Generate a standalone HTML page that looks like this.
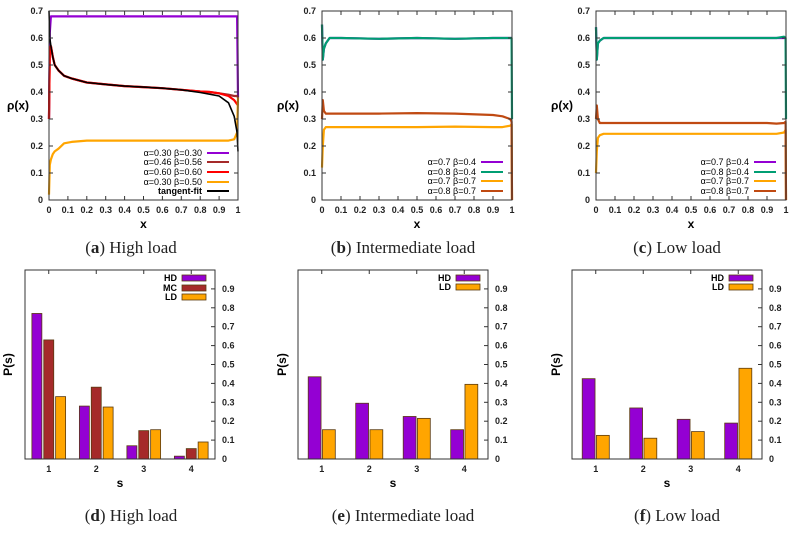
<!DOCTYPE html>
<html><head><meta charset="utf-8"><style>
body{margin:0;background:#fff;width:796px;height:530px;overflow:hidden}
svg text{font-family:"Liberation Sans",sans-serif}
.t{font-size:9px;font-weight:bold;fill:#222}
.cap{font-family:"Liberation Serif",serif;font-size:17px;fill:#222}
</style></head><body>
<svg id="fig" width="796" height="530" xmlns="http://www.w3.org/2000/svg"></svg>
<script>
// ---- data ----
const xTicks=[0,0.1,0.2,0.3,0.4,0.5,0.6,0.7,0.8,0.9,1];
const yTicksTop=[0,0.1,0.2,0.3,0.4,0.5,0.6,0.7];
const yTicksBot=[0,0.1,0.2,0.3,0.4,0.5,0.6,0.7,0.8,0.9];
const cats=[1,2,3,4];
// panel a profiles
const aX=[0,0.004,0.01,0.02,0.03,0.05,0.08,0.12,0.2,0.3,0.4,0.5,0.6,0.7,0.8,0.85,0.9,0.95,0.98,0.995,1];
const aPurple=[0.3,0.62,0.68,0.68,0.68,0.68,0.68,0.68,0.68,0.68,0.68,0.68,0.68,0.68,0.68,0.68,0.68,0.68,0.68,0.68,0.38];
const aDark=[0.3,0.56,0.57,0.53,0.5,0.48,0.46,0.45,0.435,0.428,0.422,0.418,0.414,0.408,0.402,0.4,0.395,0.39,0.385,0.385,0.38];
const aRed=[0.3,0.56,0.57,0.53,0.5,0.48,0.46,0.45,0.435,0.428,0.422,0.418,0.414,0.408,0.402,0.4,0.395,0.385,0.37,0.355,0.35];
const aOrange=[0.02,0.13,0.15,0.17,0.18,0.19,0.21,0.215,0.22,0.22,0.22,0.22,0.22,0.22,0.22,0.22,0.22,0.22,0.225,0.25,0.38];
const aFit=[0.7,0.6,0.57,0.53,0.5,0.48,0.46,0.45,0.435,0.428,0.422,0.418,0.414,0.408,0.398,0.392,0.385,0.36,0.31,0.25,0.18];
// panels b, c profiles
const bX=[0,0.004,0.01,0.02,0.04,0.1,0.3,0.5,0.7,0.9,0.95,0.99,0.998,1];
const bPurple=[0.65,0.52,0.56,0.58,0.6,0.6,0.597,0.6,0.597,0.6,0.6,0.6,0.6,0.6];
const bTeal=[0.65,0.52,0.56,0.58,0.6,0.6,0.597,0.6,0.597,0.6,0.6,0.6,0.6,0.3];
const bOrange=[0.12,0.2,0.26,0.27,0.27,0.27,0.27,0.27,0.272,0.27,0.27,0.275,0.28,0.0];
const bBrown=[0.3,0.37,0.33,0.32,0.32,0.32,0.32,0.322,0.32,0.315,0.31,0.3,0.29,0.0];
const cPurple=[0.64,0.52,0.58,0.59,0.6,0.6,0.6,0.6,0.6,0.6,0.6,0.6,0.6,0.6];
const cTeal=[0.64,0.52,0.58,0.59,0.6,0.6,0.6,0.6,0.6,0.6,0.6,0.605,0.6,0.3];
const cOrange=[0.1,0.18,0.23,0.24,0.245,0.245,0.245,0.245,0.245,0.245,0.245,0.25,0.26,0.0];
const cBrown=[0.3,0.35,0.3,0.285,0.285,0.285,0.285,0.285,0.285,0.285,0.283,0.285,0.29,0.0];
// bar panels
const dHD=[0.77,0.28,0.07,0.015], dMC=[0.63,0.38,0.15,0.055], dLD=[0.33,0.275,0.155,0.09];
const eHD=[0.435,0.295,0.225,0.155], eLD=[0.155,0.155,0.215,0.395];
const fHD=[0.425,0.27,0.21,0.19], fLD=[0.125,0.11,0.145,0.48];

const NS="http://www.w3.org/2000/svg", svg=document.getElementById('fig');
function mk(tag,attrs,parent,txt){const e=document.createElementNS(NS,tag);for(const k in attrs)e.setAttribute(k,attrs[k]);if(txt!==undefined)e.textContent=txt;(parent||svg).appendChild(e);return e;}
const PUR="#9400d3",TEAL="#009e73",ORA="#ffa500",BRN="#c04a12",DRED="#a52a2a",RED="#ff0000";

function lineChart(name,L,R,T,B,xs,series,legend,ylabX,legEnd,legRows){
  const g=mk('g',{});
  
  
  const sx=v=>L+v*(R-L), sy=v=>B-v/0.7*(B-T);
  series.forEach(s=>{
    const pts=xs.map((x,i)=>sx(x).toFixed(1)+','+sy(s.v[i]).toFixed(1)).join(' ');
    const p=mk('polyline',{points:pts,fill:'none',stroke:s.c,'stroke-width':s.w||2.2,'stroke-linejoin':'round'},g);
    
    
  });
  mk('rect',{x:L,y:T,width:R-L,height:B-T,fill:'none',stroke:'#333','stroke-width':1},g);
  xTicks.forEach(t=>{const x=sx(t);mk('line',{x1:x,x2:x,y1:B,y2:B-4,stroke:'#333'},g);mk('line',{x1:x,x2:x,y1:T,y2:T+4,stroke:'#333'},g);
    const tl=mk('text',{x:x,y:B+13,'text-anchor':'middle',class:'t'},g,String(t));});
  yTicksTop.forEach(t=>{const y=sy(t);mk('line',{x1:L,x2:L+4,y1:y,y2:y,stroke:'#333'},g);mk('line',{x1:R,x2:R-4,y1:y,y2:y,stroke:'#333'},g);
    const tl=mk('text',{x:L-6,y:y+3,'text-anchor':'end',class:'t'},g,String(t));});
  const xl=mk('text',{x:(L+R)/2,y:B+28,'text-anchor':'middle',style:'font-size:12px;font-weight:bold'},g,'x');
  
  const yl=mk('text',{x:ylabX,y:(T+B)/2+4,'text-anchor':'middle',style:'font-size:12px;font-weight:bold'},g,'ρ(x)');
  
  legend.forEach((l,i)=>{const y=legRows[i];
    const lg=mk('g',{},g);
    mk('text',{x:legEnd,y:y+3,'text-anchor':'end',style:'font-size:9px;font-weight:'+(l.b?'bold':'normal')},lg,l.t);
    mk('line',{x1:legEnd+5,x2:legEnd+27,y1:y,y2:y,stroke:l.c,'stroke-width':2},lg);});
}
function barChart(name,L,R,T,B,groups,ylabX,legEnd,legRows){
  const g=mk('g',{});
  
  
  const sx=v=>L+(v-0.5)/4*(R-L), sy=v=>B-v*(B-T);
  const n=groups.length, bw=n===3?0.21:0.27, step=n===3?0.25:0.3;
  groups.forEach((gr,j)=>{
    cats.forEach((c,i)=>{
      const off=n===3?(j-1)*step-bw/2:(j===0?-step+0.015:0.015);
      const x0=sx(c+off), x1=sx(c+off+bw);
      const r=mk('rect',{x:x0,y:sy(gr.v[i]),width:x1-x0,height:sy(0)-sy(gr.v[i]),fill:gr.c,stroke:'#5a3a10','stroke-width':0.8},g);
      
      
    });
  });
  mk('rect',{x:L,y:T,width:R-L,height:B-T,fill:'none',stroke:'#333','stroke-width':1},g);
  cats.forEach(c=>{const x=sx(c);mk('line',{x1:x,x2:x,y1:T,y2:T+4,stroke:'#333'},g);
    const tl=mk('text',{x:x,y:B+13,'text-anchor':'middle',class:'t'},g,String(c));});
  yTicksBot.forEach(t=>{const y=sy(t);mk('line',{x1:R,x2:R-4,y1:y,y2:y,stroke:'#333'},g);
    const tl=mk('text',{x:R+7,y:y+3,'text-anchor':'start',class:'t'},g,String(t));});
  const xl=mk('text',{x:(L+R)/2,y:B+28,'text-anchor':'middle',style:'font-size:12px;font-weight:bold'},g,'s');
  
  const yl=mk('text',{x:ylabX,y:(T+B)/2,'text-anchor':'middle',transform:`rotate(-90 ${ylabX} ${(T+B)/2})`,style:'font-size:12px;font-weight:bold'},g,'P(s)');
  
  groups.forEach((gr,j)=>{const y=legRows[j];
    const lg=mk('g',{},g);
    mk('text',{x:legEnd,y:y+3,'text-anchor':'end',style:'font-size:9px;font-weight:bold'},lg,gr.n);
    mk('rect',{x:legEnd+5,y:y-3,width:24,height:6,fill:gr.c,stroke:'#5a3a10','stroke-width':0.8},lg);});
}
function caption(x,y,letter,rest){
  const t=mk('text',{x:x,y:y,'text-anchor':'middle',class:'cap'});
  
  
  mk('tspan',{},t,'(');mk('tspan',{'font-weight':'bold'},t,letter);mk('tspan',{},t,') '+rest);
}
const rowsTop4=[162,172,181,191];
lineChart('chart-a-high-load',49,238,11,200,aX,
 [{v:aPurple,c:PUR,n:'series-a030-b030'},{v:aDark,c:DRED,n:'series-a046-b056'},{v:aRed,c:RED,n:'series-a060-b060'},{v:aOrange,c:ORA,n:'series-a030-b050'},{v:aFit,c:'#000',n:'tangent-fit',w:1.6}],
 [{t:'α=0.30 β=0.30',c:PUR},{t:'α=0.46 β=0.56',c:DRED},{t:'α=0.60 β=0.60',c:RED},{t:'α=0.30 β=0.50',c:ORA},{t:'tangent-fit',c:'#000',b:1}],
 18,202,[153,162,172,182,191]);
lineChart('chart-b-intermediate-load',322,512,11,200,bX,
 [{v:bOrange,c:ORA,n:'series-a07-b07'},{v:bBrown,c:BRN,n:'series-a08-b07'},{v:bPurple,c:PUR,n:'series-a07-b04'},{v:bTeal,c:TEAL,n:'series-a08-b04'}],
 [{t:'α=0.7 β=0.4',c:PUR},{t:'α=0.8 β=0.4',c:TEAL},{t:'α=0.7 β=0.7',c:ORA},{t:'α=0.8 β=0.7',c:BRN}],
 288,476,rowsTop4);
lineChart('chart-c-low-load',596,786,11,200,bX,
 [{v:cOrange,c:ORA,n:'series-a07-b07'},{v:cBrown,c:BRN,n:'series-a08-b07'},{v:cPurple,c:PUR,n:'series-a07-b04'},{v:cTeal,c:TEAL,n:'series-a08-b04'}],
 [{t:'α=0.7 β=0.4',c:PUR},{t:'α=0.8 β=0.4',c:TEAL},{t:'α=0.7 β=0.7',c:ORA},{t:'α=0.8 β=0.7',c:BRN}],
 562,749,rowsTop4);
barChart('chart-d-high-load',25,215,270,459,[{v:dHD,c:PUR,n:'HD'},{v:dMC,c:DRED,n:'MC'},{v:dLD,c:ORA,n:'LD'}],12,177,[278,288,297]);
barChart('chart-e-intermediate-load',298,488,270,459,[{v:eHD,c:PUR,n:'HD'},{v:eLD,c:ORA,n:'LD'}],286,451,[278,287]);
barChart('chart-f-low-load',572,762,270,459,[{v:fHD,c:PUR,n:'HD'},{v:fLD,c:ORA,n:'LD'}],560,724,[278,287]);
caption(131,253,'a','High load');caption(403,253,'b','Intermediate load');caption(677,253,'c','Low load');
caption(131,521,'d','High load');caption(403,521,'e','Intermediate load');caption(677,521,'f','Low load');
</script>
</body></html>
